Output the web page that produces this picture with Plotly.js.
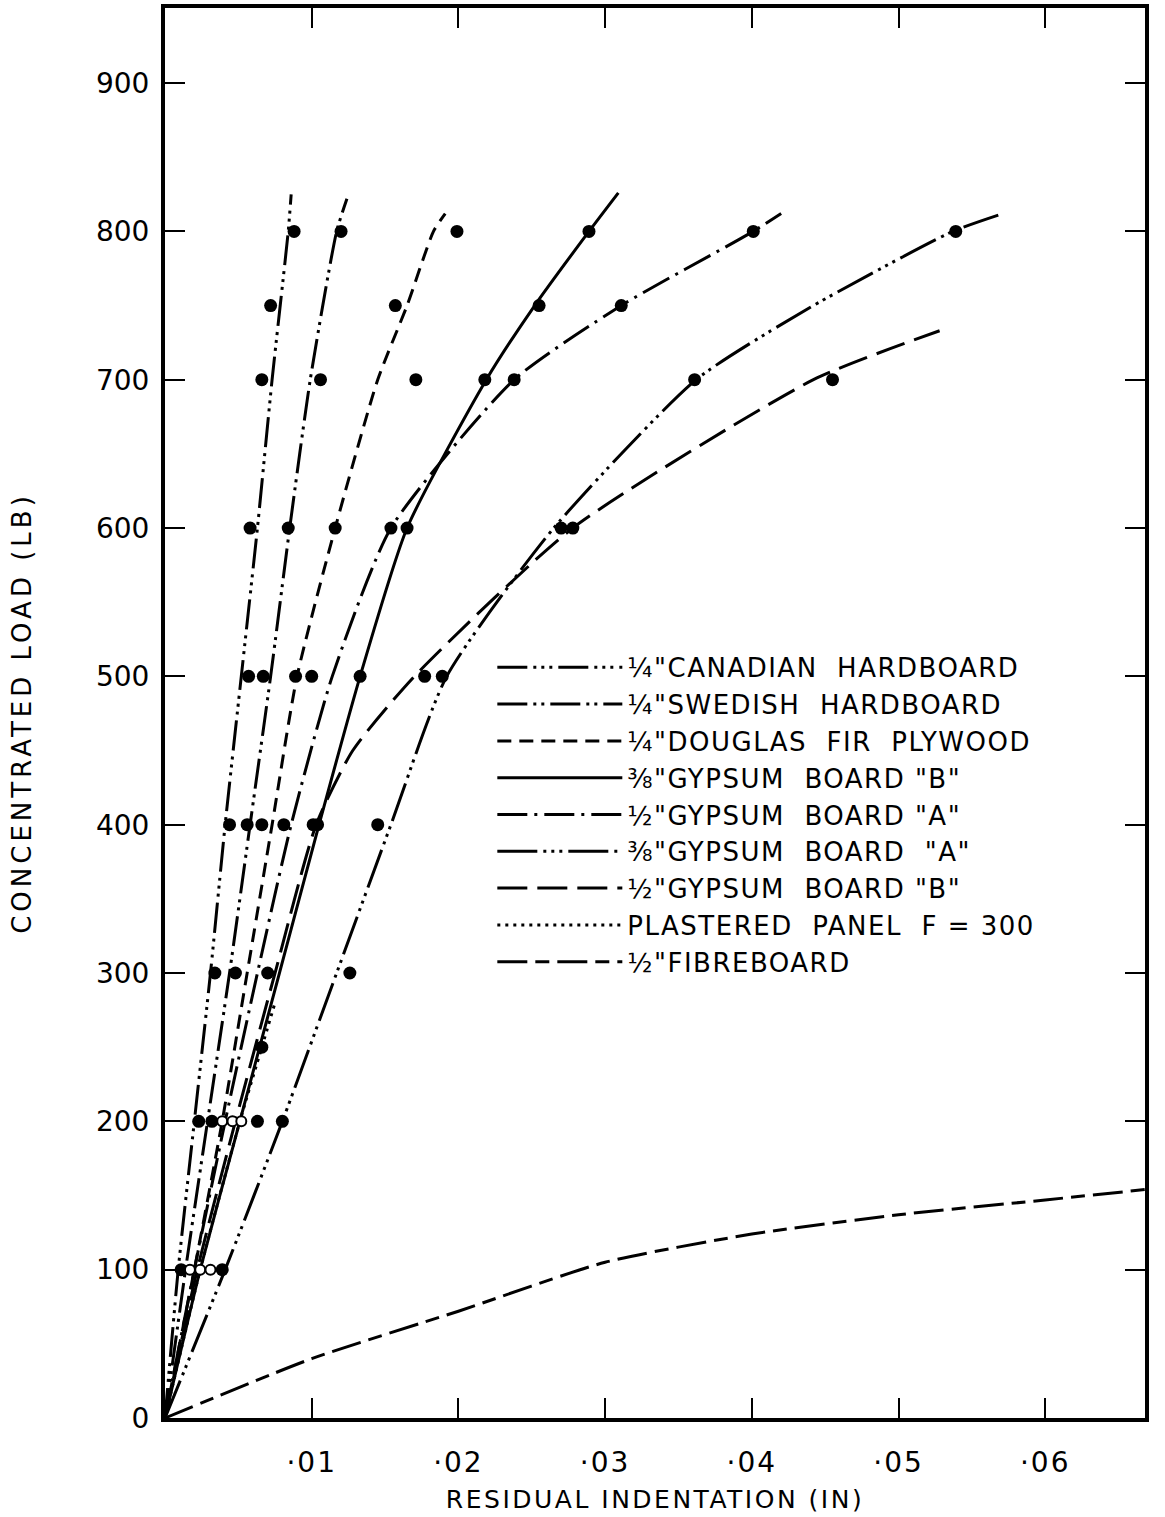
<!DOCTYPE html>
<html>
<head>
<meta charset="utf-8">
<script src="https://cdn.plot.ly/plotly-3.0.1.min.js"></script>
<style>
html,body{margin:0;padding:0;background:#fff;}
#chart{width:1165px;height:1517px;}
#chart .legend .scrollbox{clip-path:none !important;}
#chart text.legendtext{letter-spacing:1.5px;}
#chart text.xtitle{letter-spacing:2.5px;}
#chart text.ytitle{letter-spacing:4px;}
#chart .xtick text{letter-spacing:2px;}
</style>
</head>
<body>
<div id="chart"></div>
<script>
// ---- Series names (legend order) ----
const seriesNames = [
  '¼"CANADIAN  HARDBOARD',
  '¼"SWEDISH  HARDBOARD',
  '¼"DOUGLAS  FIR  PLYWOOD',
  '⅜"GYPSUM  BOARD "B"',
  '½"GYPSUM  BOARD "A"',
  '⅜"GYPSUM  BOARD  "A"',
  '½"GYPSUM  BOARD "B"',
  'PLASTERED  PANEL  F = 300',
  '½"FIBREBOARD'
];

// ---- Fitted curves: residual indentation (in) vs concentrated load (lb) ----
const canadianX = [0, 0.0009, 0.0020, 0.0031, 0.0041, 0.0052, 0.0063, 0.0073, 0.0084, 0.0086];
const canadianY = [0, 100, 200, 300, 400, 500, 600, 700, 800, 825];
const swedishX = [0, 0.0014, 0.0029, 0.0044, 0.0058, 0.0072, 0.0085, 0.0099, 0.0117, 0.0124];
const swedishY = [0, 100, 200, 300, 400, 500, 600, 700, 800, 822];
const douglasX = [0, 0.0020, 0.0039, 0.0056, 0.0073, 0.0090, 0.0116, 0.0145, 0.0165, 0.0183, 0.0191];
const douglasY = [0, 100, 200, 300, 400, 500, 600, 700, 750, 800, 812];
const gyp38BX = [0, 0.0024, 0.0051, 0.0078, 0.0105, 0.0133, 0.0165, 0.0219, 0.0252, 0.0289, 0.0309];
const gyp38BY = [0, 100, 200, 300, 400, 500, 600, 700, 750, 800, 826];
const gyp12AX = [0, 0.0020, 0.0041, 0.0063, 0.0086, 0.0114, 0.0154, 0.0238, 0.0311, 0.0401, 0.0420];
const gyp12AY = [0, 100, 200, 300, 400, 500, 600, 700, 750, 800, 812];
const gyp38AX = [0, 0.0041, 0.0080, 0.0117, 0.0154, 0.0192, 0.0265, 0.0362, 0.0442, 0.0537, 0.0568];
const gyp38AY = [0, 100, 200, 300, 400, 500, 600, 700, 750, 800, 811];
const gyp12BX = [0, 0.0022, 0.0048, 0.0075, 0.0103, 0.0128, 0.0170, 0.0278, 0.0442, 0.0528];
const gyp12BY = [0, 100, 200, 300, 400, 450, 500, 600, 700, 733];
const plasterX = [0, 0.0024, 0.0051, 0.0066, 0.0075];
const plasterY = [0, 100, 200, 250, 280];
const fibreX = [0, 0.01, 0.02, 0.03, 0.04, 0.05, 0.06, 0.0668];
const fibreY = [0, 40, 72, 105, 124, 137, 147, 154];

// ---- Test points (filled) ----
const canadianPtsX = [0.0011, 0.0023, 0.0034, 0.0044, 0.0057, 0.0058, 0.0066, 0.0072, 0.0088];
const canadianPtsY = [100, 200, 300, 400, 500, 600, 700, 750, 800];
const swedishPtsX = [0.0032, 0.0048, 0.0056, 0.0067, 0.0084, 0.0106, 0.0120];
const swedishPtsY = [200, 300, 400, 500, 600, 700, 800];
const douglasPtsX = [0.0066, 0.0089, 0.0116, 0.0171, 0.0157, 0.0199];
const douglasPtsY = [400, 500, 600, 700, 750, 800];
const gyp38BPtsX = [0.0081, 0.0133, 0.0165, 0.0218, 0.0255, 0.0289];
const gyp38BPtsY = [400, 500, 600, 700, 750, 800];
const gyp12APtsX = [0.0101, 0.0100, 0.0154, 0.0238, 0.0311, 0.0401];
const gyp12APtsY = [400, 500, 600, 700, 750, 800];
const gyp38APtsX = [0.0039, 0.0080, 0.0126, 0.0145, 0.0189, 0.0270, 0.0361, 0.0539];
const gyp38APtsY = [100, 200, 300, 400, 500, 600, 700, 800];
const gyp12BPtsX = [0.0104, 0.0177, 0.0278, 0.0455];
const gyp12BPtsY = [400, 500, 600, 700];
const plasterPtsX = [0.0063, 0.0066, 0.0070];
const plasterPtsY = [200, 250, 300];
// open (hollow) points near the origin
const openPtsX = [0.0017, 0.0024, 0.0031, 0.0039, 0.0046, 0.0052];
const openPtsY = [100, 100, 100, 200, 200, 200];

// ---- Axis ticks ----
const xTickVals = [0.01, 0.02, 0.03, 0.04, 0.05, 0.06];
const xTickText = ['·01', '·02', '·03', '·04', '·05', '·06'];
const yTickVals = [0, 100, 200, 300, 400, 500, 600, 700, 800, 900];

const curveX = [canadianX, swedishX, douglasX, gyp38BX, gyp12AX, gyp38AX, gyp12BX, plasterX, fibreX];
const curveY = [canadianY, swedishY, douglasY, gyp38BY, gyp12AY, gyp38AY, gyp12BY, plasterY, fibreY];
const ptsX = [canadianPtsX, swedishPtsX, douglasPtsX, gyp38BPtsX, gyp12APtsX, gyp38APtsX, gyp12BPtsX, plasterPtsX, []];
const ptsY = [canadianPtsY, swedishPtsY, douglasPtsY, gyp38BPtsY, gyp12APtsY, gyp38APtsY, gyp12BPtsY, plasterPtsY, []];
const dashes = [
  '30px,6px,3px,5px,3px,5px,3px,6px',
  '30px,6px,3px,5px,3px,6px',
  '14px,8px',
  'solid',
  '30px,7px,3px,7px',
  '40px,6px,3px,5px,3px,5px,3px,6px',
  '30px,10px',
  '3px,5px',
  '30px,8px,14px,8px'
];

const traces = [];
for (let i = 0; i < seriesNames.length; i++) {
  traces.push({
    type: 'scatter', mode: 'lines', name: seriesNames[i],
    x: curveX[i], y: curveY[i],
    line: {color: '#000', width: 3, dash: dashes[i], shape: 'spline', smoothing: 0.6},
    hoverinfo: 'skip'
  });
}
for (let i = 0; i < seriesNames.length; i++) {
  if (!ptsX[i].length) continue;
  traces.push({
    type: 'scatter', mode: 'markers', showlegend: false,
    x: ptsX[i], y: ptsY[i],
    marker: {color: '#000', size: 13, symbol: 'circle'}
  });
}
traces.push({
  type: 'scatter', mode: 'markers', showlegend: false,
  x: openPtsX, y: openPtsY,
  marker: {color: '#fff', size: 10, symbol: 'circle', line: {color: '#000', width: 2}}
});

const fontFam = 'DejaVu Sans, sans-serif';
const layout = {
  width: 1165, height: 1517,
  margin: {l: 165, r: 20, t: 8, b: 99},
  paper_bgcolor: '#fff', plot_bgcolor: '#fff',
  font: {family: fontFam, color: '#000', size: 24},
  showlegend: true,
  legend: {
    x: 0.334, y: 0.549, xanchor: 'left', yanchor: 'top',
    bgcolor: 'rgba(0,0,0,0)', itemwidth: 125,
    font: {family: fontFam, size: 26, color: '#000'},
    tracegroupgap: 0
  },
  xaxis: {
    range: [0, 0.0668], tickvals: xTickVals, ticktext: xTickText,
    ticks: 'inside', ticklen: 20, tickwidth: 2, tickcolor: '#000',
    showline: true, linewidth: 4, linecolor: '#000', mirror: 'ticks',
    showgrid: false, zeroline: false, ticklabelstandoff: 16,
    tickfont: {family: fontFam, size: 28},
    title: {text: 'RESIDUAL INDENTATION (IN)', font: {family: fontFam, size: 25}, standoff: 14}
  },
  yaxis: {
    range: [0, 950.6], tickvals: yTickVals,
    ticks: 'inside', ticklen: 20, tickwidth: 2, tickcolor: '#000',
    showline: true, linewidth: 4, linecolor: '#000', mirror: 'ticks',
    showgrid: false, zeroline: false, ticklabelstandoff: 6,
    tickfont: {family: fontFam, size: 28},
    title: {text: 'CONCENTRATED LOAD (LB)', font: {family: fontFam, size: 26}, standoff: 58}
  }
};
Plotly.newPlot('chart', traces, layout, {displayModeBar: false, staticPlot: true});
</script>
</body>
</html>
